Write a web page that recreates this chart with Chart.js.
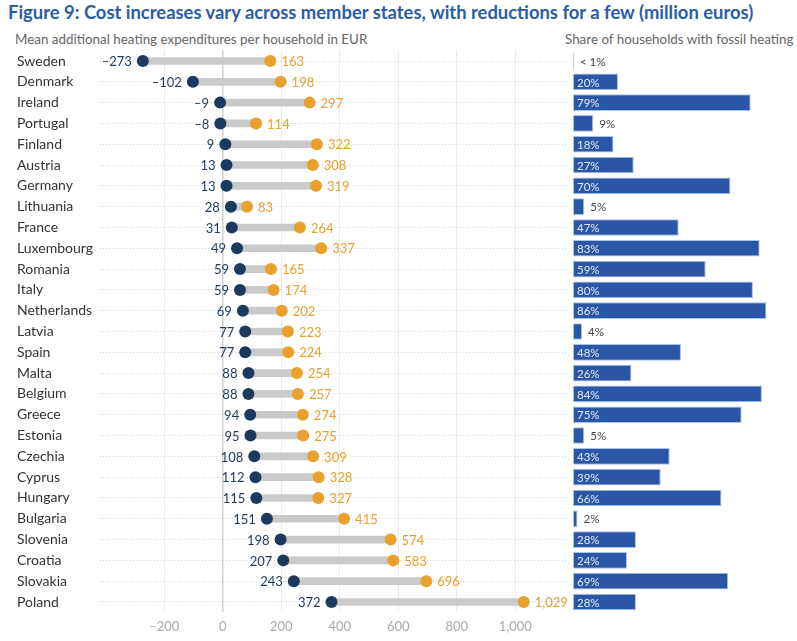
<!DOCTYPE html>
<html>
<head>
<meta charset="utf-8">
<title>Figure 9</title>
<script src="https://cdn.jsdelivr.net/npm/chart.js@4.4.1/dist/chart.umd.min.js"></script>
<style>
  body { margin: 0; background: #fff; font-family: Lato, "Open Sans", sans-serif; }
  #title { position: absolute; left: 8px; top: 1px; font-weight: bold; font-size: 18.4px; color: #2b5ca6; white-space: nowrap; }
  .sub { position: absolute; top: 31px; font-size: 13.4px; color: #666; white-space: nowrap; }
  #sub-left { left: 15px; }
  #sub-right { left: 565px; }
  #wrap-left { position: absolute; left: 0; top: 50px; width: 568px; height: 591px; }
  #wrap-right { position: absolute; left: 573px; top: 50px; width: 224px; height: 591px; }
</style>
</head>
<body>
<div id="title">Figure 9: Cost increases vary across member states, with reductions for a few (million euros)</div>
<div class="sub" id="sub-left">Mean additional heating expenditures per household in EUR</div>
<div class="sub" id="sub-right">Share of households with fossil heating</div>
<div id="wrap-left"><canvas id="dumbbell"></canvas></div>
<div id="wrap-right"><canvas id="share"></canvas></div>

<script>
const countries = ['Sweden', 'Denmark', 'Ireland', 'Portugal', 'Finland', 'Austria', 'Germany',
    'Lithuania', 'France', 'Luxembourg', 'Romania', 'Italy', 'Netherlands', 'Latvia', 'Spain',
    'Malta', 'Belgium', 'Greece', 'Estonia', 'Czechia', 'Cyprus', 'Hungary', 'Bulgaria',
    'Slovenia', 'Croatia', 'Slovakia', 'Poland'];

// lower and upper estimate of extra heating cost (EUR)
const lowValues = [-273, -102, -9, -8, 9, 13, 13, 28, 31, 49, 59, 59, 69, 77, 77, 88, 88, 94, 95,
    108, 112, 115, 151, 198, 207, 243, 372];
const highValues = [163, 198, 297, 114, 322, 308, 319, 83, 264, 337, 165, 174, 202, 223, 224, 254,
    257, 274, 275, 309, 328, 327, 415, 574, 583, 696, 1029];

// share of households with fossil heating (%)
const fossilShare = [0.4, 20, 79, 9, 18, 27, 70, 5, 47, 83, 59, 80, 86, 4, 48, 26, 84, 75, 5, 43,
    39, 66, 2, 28, 24, 69, 28];

const xTicks = [-200, 0, 200, 400, 600, 800, 1000];

const NAVY = '#1b3a5e';
const ORANGE = '#e9a02c';
const BAR_BLUE = '#2a56a5';

Chart.defaults.font.family = 'Lato, "Open Sans", sans-serif';
Chart.defaults.animation = false;

const fmt = (v) => {
    const s = Math.abs(v).toLocaleString('en-US');
    return v < 0 ? '\u2013' + s : s;
};

// value labels next to the two dots
const dotLabels = {
    id: 'dotLabels',
    afterDatasetsDraw(chart) {
        const { ctx, scales: { x, y } } = chart;
        ctx.save();
        ctx.font = '13px Lato, sans-serif';
        ctx.textBaseline = 'middle';
        countries.forEach((c, i) => {
            const py = y.getPixelForValue(i);
            ctx.fillStyle = NAVY;
            ctx.textAlign = 'right';
            ctx.fillText(fmt(lowValues[i]), x.getPixelForValue(lowValues[i]) - 11, py + 1);
            ctx.fillStyle = ORANGE;
            ctx.textAlign = 'left';
            ctx.fillText(fmt(highValues[i]), x.getPixelForValue(highValues[i]) + 11, py + 1);
        });
        ctx.restore();
    }
};

new Chart(document.getElementById('dumbbell'), {
    type: 'bar',
    data: {
        labels: countries,
        datasets: [
            {
                type: 'scatter',
                data: countries.map((c, i) => ({ x: lowValues[i], y: c })),
                backgroundColor: NAVY,
                borderWidth: 0,
                pointRadius: 6,
                order: 0
            },
            {
                type: 'scatter',
                data: countries.map((c, i) => ({ x: highValues[i], y: c })),
                backgroundColor: ORANGE,
                borderWidth: 0,
                pointRadius: 6,
                order: 1
            },
            {
                data: countries.map((c, i) => [lowValues[i], highValues[i]]),
                backgroundColor: '#cacaca',
                barThickness: 7,
                borderSkipped: false,
                order: 2
            }
        ]
    },
    options: {
        indexAxis: 'y',
        responsive: true,
        maintainAspectRatio: false,
        layout: { autoPadding: false, padding: { top: 0.6, left: 17, right: 0, bottom: 0 } },
        plugins: { legend: { display: false }, tooltip: { enabled: false } },
        scales: {
            x: {
                type: 'linear',
                min: -419.5,
                max: 1180.5,
                afterBuildTicks: (scale) => { scale.ticks = xTicks.map(v => ({ value: v })); },
                afterFit: (scale) => { scale.height = 28.6; scale.paddingLeft = 0; scale.paddingRight = 0; },
                grid: {
                    color: (c) => (c.tick && c.tick.value === 0 ? '#cfcfcf' : '#ebebeb'),
                    lineWidth: (c) => (c.tick && c.tick.value === 0 ? 1.5 : 1),
                    drawTicks: false
                },
                border: { display: false },
                ticks: {
                    color: '#aaaaaa',
                    font: { size: 13 },
                    padding: 7,
                    callback: (v) => fmt(v)
                }
            },
            y: {
                type: 'category',
                offset: true,
                afterFit: (scale) => { scale.width = 83; scale.paddingTop = 0; scale.paddingBottom = 0; },
                grid: { color: '#d6d6d6', offset: false, drawTicks: false, z: -1 },
                border: { display: false, dash: [1, 2] },
                ticks: { color: '#333', font: { size: 14 }, crossAlign: 'far' }
            }
        }
    },
    plugins: [dotLabels]
});

// percentage labels on the share bars
const shareLabels = {
    id: 'shareLabels',
    afterDatasetsDraw(chart) {
        const { ctx, scales: { x, y } } = chart;
        ctx.save();
        ctx.font = '11.5px Lato, sans-serif';
        ctx.textBaseline = 'middle';
        ctx.textAlign = 'left';
        fossilShare.forEach((v, i) => {
            const py = y.getPixelForValue(i) + 1;
            const text = v < 1 ? '< 1%' : v + '%';
            if (v >= 15) {
                ctx.fillStyle = '#e3eaf6';
                ctx.fillText(text, x.getPixelForValue(0) + 4, py);
            } else {
                ctx.fillStyle = '#444';
                ctx.fillText(text, x.getPixelForValue(v) + 6, py);
            }
        });
        ctx.restore();
    }
};

new Chart(document.getElementById('share'), {
    type: 'bar',
    data: {
        labels: countries,
        datasets: [{
            data: fossilShare,
            backgroundColor: BAR_BLUE,
            borderColor: '#a9c3ea',
            borderWidth: 1,
            borderSkipped: false,
            barPercentage: 0.8,
            categoryPercentage: 1
        }]
    },
    options: {
        indexAxis: 'y',
        responsive: true,
        maintainAspectRatio: false,
        layout: { autoPadding: false, padding: { top: 0.6, left: 0, right: 0, bottom: 28.6 } },
        plugins: { legend: { display: false }, tooltip: { enabled: false } },
        scales: {
            x: { type: 'linear', min: 0, max: 99.6, display: false },
            y: { type: 'category', display: false }
        }
    },
    plugins: [shareLabels]
});
</script>
</body>
</html>
